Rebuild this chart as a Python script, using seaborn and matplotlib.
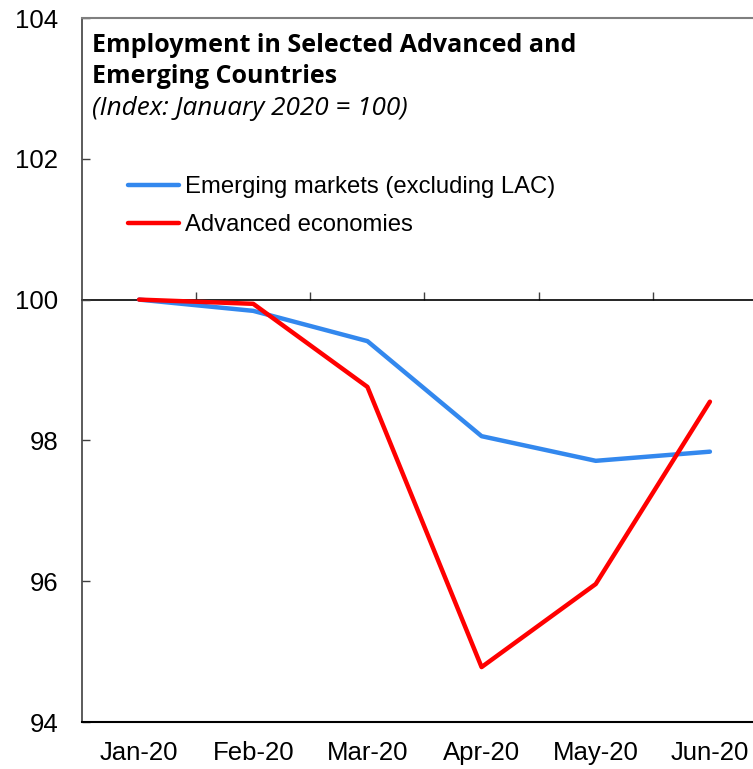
import matplotlib
matplotlib.use("Agg")
import matplotlib.pyplot as plt
import seaborn as sns
import pandas as pd

months = ["Jan-20", "Feb-20", "Mar-20", "Apr-20", "May-20", "Jun-20"]
emerging = [100.0, 99.84, 99.41, 98.06, 97.71, 97.84]
advanced = [100.0, 99.94, 98.76, 94.78, 95.96, 98.55]
series_names = ["Emerging markets (excluding LAC)", "Advanced economies"]
series_colors = ["#3388EE", "#FF0000"]
yticks = [94, 96, 98, 100, 102, 104]

df = pd.DataFrame({
    "month": months * 2,
    "value": emerging + advanced,
    "series": [series_names[0]] * len(months) + [series_names[1]] * len(months),
})

sns.set_theme(style="white")
plt.rcParams["font.family"] = ["Liberation Sans", "DejaVu Sans"]
plt.rcParams["text.color"] = "black"
plt.rcParams["xtick.color"] = "black"
plt.rcParams["ytick.color"] = "black"

W, H = 753, 769
fig = plt.figure(figsize=(W / 100, H / 100), dpi=100)
ax = fig.add_axes([82 / W, (H - 722) / H, 685 / W, 704 / H])

sns.lineplot(data=df, x="month", y="value", hue="series", hue_order=series_names,
             palette=dict(zip(series_names, series_colors)), linewidth=3.2,
             sort=False, ax=ax)

ax.set_xlim(-0.5, len(months) - 0.5)
ax.set_ylim(94, 104)
ax.set_yticks(yticks)
ax.set_yticklabels([str(v) for v in yticks])
ax.set_xlabel("")
ax.set_ylabel("")
ax.tick_params(axis="y", direction="in", length=6, width=1, color="#404040",
               labelsize=18.5, pad=17, left=True, labelcolor="black")
ax.tick_params(axis="x", length=0, labelsize=18.5, pad=14, labelcolor="black")

for s in ["left", "bottom", "top", "right"]:
    ax.spines[s].set_visible(True)
ax.spines["top"].set_color("#7f7f7f")
ax.spines["top"].set_linewidth(1.5)
ax.spines["left"].set_color("#404040")
ax.spines["left"].set_linewidth(1.2)
ax.spines["bottom"].set_color("#000000")
ax.spines["bottom"].set_linewidth(1.5)
ax.spines["right"].set_color("#7f7f7f")

# horizontal category axis crossing at 100
sec = ax.secondary_xaxis((100 - 94) / 10)
sec.set_xticks([i + 0.5 for i in range(len(months) - 1)])
sec.set_xticklabels([""] * (len(months) - 1))
sec.tick_params(direction="out", length=6, width=1, color="#404040")
for s in sec.spines.values():
    s.set_color("#000000")
    s.set_linewidth(1.2)

# legend
handles, labels = ax.get_legend_handles_labels()
ax.legend_.remove()
leg = fig.legend(handles, labels, loc="upper left",
                 bbox_to_anchor=(128 / W, 1 - 176 / H), frameon=False,
                 fontsize=17.2, handlelength=2.15, handletextpad=0.22,
                 borderpad=0, borderaxespad=0, labelspacing=0.68)
for t in leg.get_texts():
    t.set_color("black")

# title
fig.text(92 / W, 1 - 52 / H, "Employment in Selected Advanced and",
         fontfamily="Open Sans", fontweight="bold", fontsize=18, va="baseline",
         color="black")
fig.text(92 / W, 1 - 83 / H, "Emerging Countries",
         fontfamily="Open Sans", fontweight="bold", fontsize=18, va="baseline",
         color="black")
fig.text(92 / W, 1 - 115 / H, "(Index: January 2020 = 100)",
         fontfamily="Open Sans", fontstyle="italic", fontsize=18.8, va="baseline",
         color="black")

fig.savefig("out.png", dpi=100)
